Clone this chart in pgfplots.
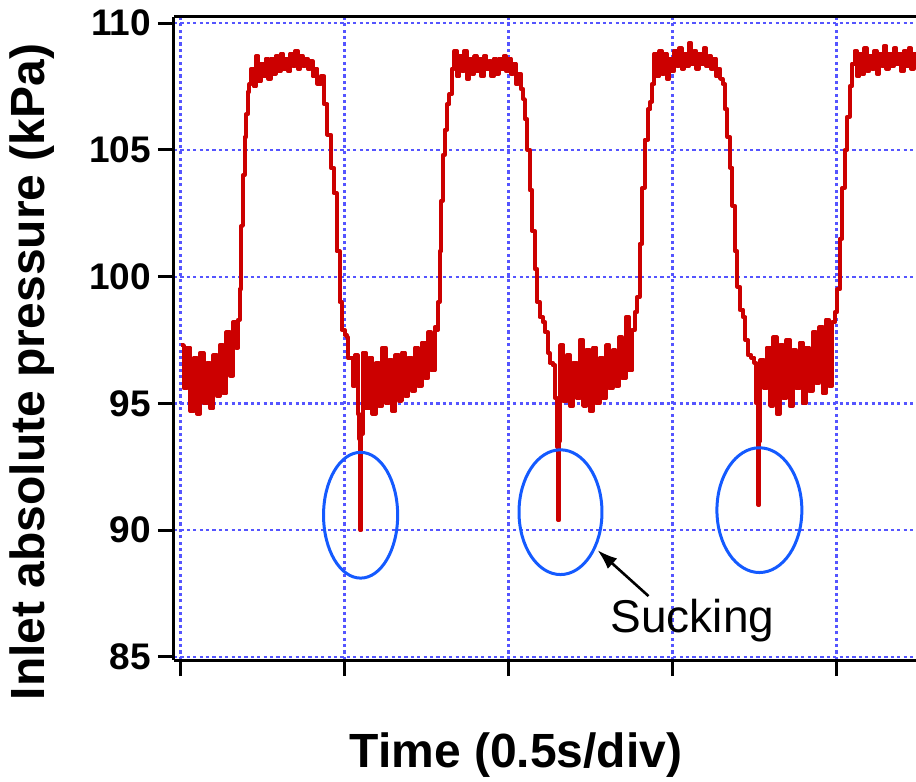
\documentclass[border=0pt]{standalone}
\usepackage{fontspec}
\setmainfont{Liberation Sans}
\usepackage{pgfplots}
\pgfplotsset{compat=1.18}
\usetikzlibrary{arrows.meta}
\definecolor{sig}{RGB}{204,0,0}
\definecolor{gridblue}{RGB}{85,85,255}
\definecolor{ellblue}{RGB}{20,90,255}
\begin{document}
\begin{tikzpicture}
\begin{axis}[
  scale only axis, width=371pt, height=321.5pt,
  xmin=-0.04, xmax=4.485, ymin=84.88, ymax=110.24,
  axis x line*=box, axis y line*=left,
  xtick={0,1,2,3,4}, xticklabels={},
  ytick={85,90,95,100,105,110},
  xtick pos=bottom, ytick pos=left,
  tick align=outside,
  major tick length=8pt,
  every tick/.style={black, line width=1.5pt},
  axis line style={black, line width=1.5pt},
  grid=major,
  major grid style={draw=gridblue, line width=1.1pt, dash pattern=on 1.6pt off 1.6pt},
  /pgf/number format/assume math mode=true,
  yticklabel style={font=\fontsize{18.5}{18.5}\selectfont\bfseries},
  xlabel={Time (0.5s/div)},
  ylabel={Inlet absolute pressure (kPa)},
  xlabel style={at={(axis description cs:0.461,-0.148)}, anchor=center, font=\fontsize{24}{24}\selectfont\bfseries},
  ylabel style={at={(axis description cs:-0.191,0.448)}, anchor=center, font=\fontsize{24}{24}\selectfont\bfseries},
]
\addplot[sig, line width=2pt, line join=round, no markers, const plot] table {
x y
0.00 97.3
0.02 95.6
0.04 97.2
0.06 94.7
0.08 96.8
0.10 94.6
0.12 97.0
0.14 95.0
0.16 96.6
0.18 94.8
0.20 96.9
0.22 95.3
0.24 97.3
0.26 95.4
0.28 97.8
0.30 96.1
0.32 98.2
0.34 97.2
0.35 98.3
0.36 99.5
0.37 102.0
0.38 104.0
0.39 105.5
0.40 106.4
0.41 107.3
0.42 107.6
0.43 108.2
0.445 107.5
0.46 108.7
0.475 107.7
0.49 108.4
0.505 107.9
0.52 108.6
0.535 107.8
0.55 108.6
0.565 108.0
0.58 108.7
0.595 108.1
0.61 108.8
0.625 108.2
0.64 108.6
0.655 108.1
0.67 108.8
0.685 108.3
0.70 108.9
0.715 108.2
0.73 108.7
0.745 108.3
0.76 108.6
0.775 108.2
0.79 108.5
0.805 107.9
0.82 108.2
0.835 107.6
0.855 107.9
0.875 106.8
0.896 105.6
0.915 104.3
0.933 103.3
0.951 101.0
0.97 99.0
0.982 97.9
1.00 97.7
1.012 97.6
1.02 96.8
1.035 96.8
1.05 95.7
1.065 96.9
1.08 94.6
1.09 93.6
1.097 90.0
1.103 93.8
1.11 97.0
1.13 94.8
1.15 96.8
1.17 94.6
1.19 96.6
1.21 94.9
1.23 97.2
1.25 95.0
1.27 96.7
1.29 94.7
1.31 96.9
1.33 95.1
1.35 97.0
1.37 95.3
1.39 96.8
1.41 95.5
1.43 97.2
1.45 95.7
1.47 97.4
1.49 96.0
1.51 97.8
1.53 96.3
1.55 98.0
1.565 97.9
1.57 99.0
1.58 101.0
1.59 103.0
1.60 104.8
1.61 105.8
1.625 106.8
1.64 107.2
1.655 108.2
1.67 108.9
1.685 107.9
1.70 108.7
1.715 108.1
1.73 108.9
1.745 107.8
1.76 108.6
1.775 108.0
1.79 108.7
1.805 108.1
1.82 108.6
1.835 107.9
1.85 108.7
1.865 108.2
1.88 108.5
1.895 107.9
1.91 108.6
1.925 108.0
1.94 108.6
1.955 108.2
1.97 108.7
1.985 108.1
2.00 108.6
2.015 108.0
2.03 108.4
2.045 107.6
2.06 108.0
2.075 107.4
2.09 107.0
2.10 106.2
2.115 105.0
2.13 103.4
2.145 101.8
2.16 100.3
2.175 99.0
2.19 98.4
2.21 98.2
2.225 97.8
2.24 97.0
2.25 96.6
2.27 96.5
2.285 95.2
2.297 93.3
2.303 90.4
2.309 93.5
2.315 97.3
2.335 95.1
2.355 96.9
2.375 94.9
2.395 96.6
2.415 95.2
2.435 97.5
2.455 94.9
2.475 97.1
2.495 94.7
2.515 97.2
2.535 95.0
2.555 96.8
2.575 95.2
2.595 97.3
2.615 95.6
2.635 97.1
2.655 95.7
2.675 97.6
2.695 96.0
2.715 98.4
2.735 96.3
2.755 97.9
2.77 98.6
2.785 99.2
2.80 101.3
2.815 103.5
2.83 105.4
2.85 106.6
2.865 106.9
2.875 107.6
2.89 108.8
2.905 107.9
2.92 108.9
2.935 108.0
2.95 108.8
2.965 107.8
2.98 108.6
2.995 108.1
3.01 108.9
3.025 108.3
3.04 109.0
3.055 108.2
3.07 108.8
3.085 108.3
3.10 109.2
3.115 108.4
3.13 108.9
3.145 108.2
3.16 108.8
3.175 108.4
3.19 109.0
3.205 108.3
3.22 108.7
3.235 108.2
3.25 108.6
3.265 107.9
3.28 108.2
3.29 107.8
3.305 107.6
3.32 106.6
3.335 105.5
3.35 104.3
3.365 102.8
3.38 101.0
3.395 99.6
3.41 98.7
3.43 98.4
3.445 97.5
3.46 96.9
3.48 96.8
3.50 96.6
3.512 95.0
3.520 93.0
3.524 91.0
3.528 93.5
3.535 96.7
3.555 95.6
3.575 97.2
3.595 94.9
3.615 97.6
3.635 94.6
3.655 97.3
3.675 95.2
3.695 97.5
3.715 94.9
3.735 97.1
3.755 95.6
3.775 97.4
3.795 95.0
3.815 97.2
3.835 95.5
3.855 97.8
3.875 95.8
3.895 98.0
3.915 95.4
3.935 98.3
3.955 95.7
3.975 98.2
3.99 98.6
4.005 99.5
4.02 101.5
4.035 103.5
4.05 105.0
4.065 106.3
4.08 107.5
4.095 108.4
4.11 108.9
4.125 107.9
4.14 108.8
4.155 108.0
4.17 109.0
4.185 108.1
4.20 108.7
4.215 108.2
4.23 108.9
4.245 108.0
4.26 108.8
4.275 108.3
4.29 109.1
4.305 108.2
4.32 108.8
4.335 108.3
4.35 109.0
4.365 108.4
4.38 108.8
4.395 108.1
4.41 108.9
4.425 108.3
4.44 109.0
4.455 108.2
4.47 108.8
4.485 108.4
};
\draw[ellblue, line width=1.5pt] (axis cs:1.098,90.59) ellipse [x radius=0.226, y radius=2.48];
\draw[ellblue, line width=1.5pt] (axis cs:2.317,90.71) ellipse [x radius=0.253, y radius=2.46];
\draw[ellblue, line width=1.5pt] (axis cs:3.530,90.79) ellipse [x radius=0.259, y radius=2.46];
\draw[black, line width=1.3pt, -{Latex[length=10pt,width=7pt]}] (axis cs:2.854,87.40) -- (axis cs:2.543,89.21);
\node[anchor=base, font=\fontsize{23}{23}\selectfont] at (axis cs:3.122,85.98) {Sucking};
\end{axis}
\pgfresetboundingbox
\path[use as bounding box] (-87pt,-61pt) rectangle (371pt,330pt);
\end{tikzpicture}
\end{document}
